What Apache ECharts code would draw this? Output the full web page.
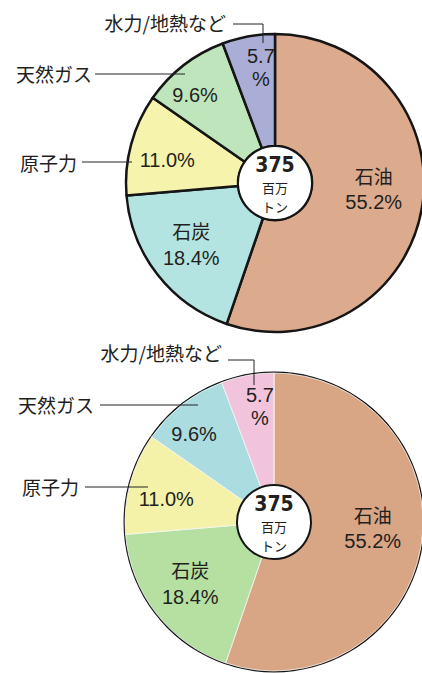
<!DOCTYPE html>
<html>
<head>
<meta charset="utf-8">
<script src="https://cdn.jsdelivr.net/npm/echarts@6/dist/echarts.min.js"></script>
<style>
html,body{margin:0;padding:0;background:#ffffff;}
#c{width:422px;height:673px;}
</style>
</head>
<body>
<div id="c"></div>
<script>
// ---- data ----
const categories = ['石油', '石炭', '原子力', '天然ガス', '水力/地熱など'];
const shares = [55.2, 18.4, 11.0, 9.6, 5.7];
const totalMt = 375;
const totalUnit = ['百万', 'トン'];
const namesInside = ['石油', '石炭'];

// ---- styles ----
const topColors = ['#dcaa8c', '#b4e4e2', '#f5f3ac', '#bfe5bd', '#aaaed6'];
const bottomColors = ['#d8a585', '#b5e0a2', '#f3f2a8', '#aadce0', '#f2c4dc'];
const labelOffsets = [[4, -11], [-8, 1], [-15, 2], [-21, -12], [3, -21]];
const JP = '"Noto Sans CJK JP", "Noto Sans", sans-serif';
const LAT = '"Liberation Sans", Arial, sans-serif';
const NUM = '"DejaVu Sans Condensed", "Liberation Sans Narrow", "Liberation Sans", sans-serif';
const TXT = '#231f20';

const charts = [
  {
    center: [275, 183], colors: topColors,
    border: { borderColor: '#151515', borderWidth: 2.5 }, outerRing: false,
    outer: {
      2: { x: 77, y: 162, pts: [[132, 162], [105, 162], [82, 162]] },
      3: { x: 92, y: 73, pts: [[185, 74], [140, 74], [95, 74]] },
      4: { x: 226, y: 22, pts: [[263, 43], [263, 24], [233, 24]] }
    }
  },
  {
    center: [274, 522], colors: bottomColors,
    border: { borderColor: 'rgba(255,255,255,0.75)', borderWidth: 1 }, outerRing: true,
    outer: {
      2: { x: 79, y: 486, pts: [[148, 487], [115, 487], [85, 487]] },
      3: { x: 94, y: 404, pts: [[198, 405], [150, 405], [100, 405]] },
      4: { x: 222, y: 352, pts: [[254, 385], [254, 360], [228, 360]] }
    }
  }
];

function labelText(name, v) {
  const s = v.toFixed(1);
  if (v < 6) return '{pn|' + s + '}\n{pn|%}';
  if (namesInside.indexOf(name) >= 0) {
    return v > 50 ? '{nm|' + name + '}\n{pc|' + s + '%}' : '{nm2|' + name + '}\n{pc2|' + s + '%}';
  }
  return '{pc|' + s + '%}';
}

const series = [];
charts.forEach(function (ch) {
  if (ch.outerRing) {
    series.push({
      type: 'pie', center: ch.center, radius: [0, 150.5], silent: true, z: 1,
      data: [{ value: totalMt, name: 'ring' }],
      itemStyle: { color: '#151515' },
      label: { show: false }, labelLine: { show: false },
      emphasis: { disabled: true }
    });
  }
  // main slices with inner labels
  series.push({
    type: 'pie', center: ch.center, radius: [37, 149],
    startAngle: 90, clockwise: true, silent: true, z: 2,
    avoidLabelOverlap: false,
    itemStyle: ch.border,
    emphasis: { disabled: true },
    label: {
      show: true, position: 'inside', color: TXT,
      formatter: function (p) { return labelText(p.name, p.value); },
      rich: {
        nm: { fontFamily: JP, fontSize: 19, lineHeight: 28, color: TXT },
        pc: { fontFamily: LAT, fontSize: 20, lineHeight: 24, color: TXT },
        nm2: { fontFamily: JP, fontSize: 19, lineHeight: 30, color: TXT },
        pc2: { fontFamily: LAT, fontSize: 20, lineHeight: 26, color: TXT },
        pn: { fontFamily: LAT, fontSize: 20, lineHeight: 23, color: TXT }
      }
    },
    labelLine: { show: false },
    data: categories.map(function (c, i) {
      return {
        name: c, value: shares[i],
        itemStyle: { color: ch.colors[i] },
        label: { offset: labelOffsets[i] }
      };
    })
  });
  // overlay for outside names with leader lines
  series.push({
    type: 'pie', center: ch.center, radius: [37, 149],
    startAngle: 90, clockwise: true, silent: true, z: 3,
    avoidLabelOverlap: false,
    itemStyle: { color: 'rgba(0,0,0,0)', borderWidth: 0 },
    emphasis: { disabled: true },
    label: { show: true, position: 'outside', color: TXT, fontFamily: JP, fontSize: 19, formatter: '{b}' },
    labelLine: { show: true, length: 10, length2: 10, smooth: false, lineStyle: { color: '#222', width: 1 } },
    labelLayout: function (p) {
      const o = ch.outer[p.dataIndex];
      if (!o) return {};
      return { x: o.x, y: o.y, align: 'right', verticalAlign: 'middle', labelLinePoints: o.pts };
    },
    data: categories.map(function (c, i) {
      const isOuter = namesInside.indexOf(c) < 0;
      return {
        name: c, value: shares[i],
        label: { show: isOuter },
        labelLine: { show: isOuter }
      };
    })
  });
  // centre total
  series.push({
    type: 'pie', center: ch.center, radius: [0, 37], silent: true, z: 4,
    data: [{ value: totalMt, name: 'total' }],
    itemStyle: { color: '#ffffff', borderColor: '#151515', borderWidth: 2 },
    emphasis: { disabled: true },
    labelLine: { show: false },
    label: {
      show: true, position: 'center', color: TXT, offset: [0, 1],
      formatter: function () {
        return '{n|' + totalMt + '}\n{u|' + totalUnit[0] + '}\n{u|' + totalUnit[1] + '}';
      },
      rich: {
        n: { fontSize: 21, fontWeight: 'bold', fontFamily: NUM, color: TXT, lineHeight: 25 },
        u: { fontSize: 13, fontFamily: JP, color: TXT, lineHeight: 19 }
      }
    }
  });
});

const chart = echarts.init(document.getElementById('c'), null, { renderer: 'svg' });
chart.setOption({ animation: false, backgroundColor: '#ffffff', series: series });
</script>
</body>
</html>
